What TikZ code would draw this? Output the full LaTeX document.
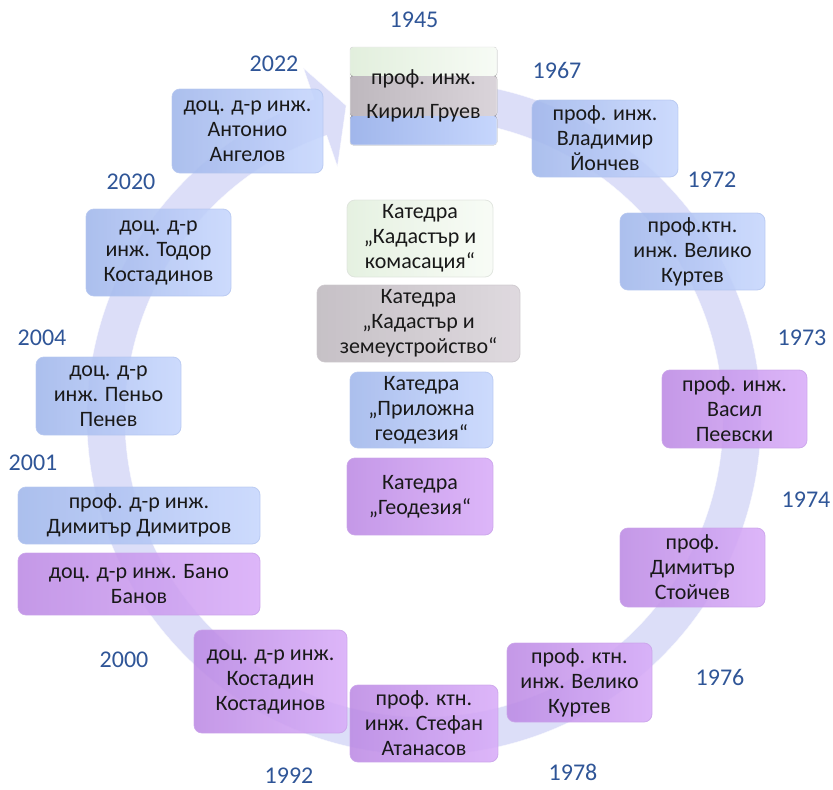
\documentclass[tikz,border=0pt]{standalone}
\usepackage{fontspec}
\setmainfont{Carlito}
\usepackage{tikz}

\definecolor{yearc}{RGB}{47,85,151}
\definecolor{ringc}{RGB}{220,222,248}
\definecolor{bluA}{RGB}{160,182,235}
\definecolor{bluB}{RGB}{198,214,253}
\definecolor{purA}{RGB}{188,138,228}
\definecolor{purB}{RGB}{216,172,248}
\definecolor{grnA}{RGB}{226,239,221}
\definecolor{grnB}{RGB}{247,251,245}
\definecolor{gryA}{RGB}{190,184,190}
\definecolor{gryB}{RGB}{218,212,218}

\tikzset{
  box/.style={rounded corners=8pt, align=center, inner sep=0pt, font=\fontsize{22}{25}\selectfont,
    fill opacity=0.88, text opacity=1, draw opacity=0.8, line width=0.8pt, text=black!90},
  blubox/.style={box, left color=bluA, right color=bluB, draw=bluA!80!white},
  purbox/.style={box, left color=purA, right color=purB, draw=purA!80!white},
  grnbox/.style={box, left color=grnA, right color=grnB, draw=grnA!70!gray!60},
  grybox/.style={box, left color=gryA, right color=gryB, draw=gryA!80!white},
  year/.style={text=yearc, font=\fontsize{24}{26}\selectfont}
}

\begin{document}
\begin{tikzpicture}[x=1pt,y=-1pt]
\useasboundingbox (0,0) rectangle (833,790);
\begin{scope}[shift={(424,418)},y=1pt]
\fill[ringc,draw=white!85!ringc] (86:337) arc[start angle=86,end angle=-251,radius=337pt] -- (-251:370) -- (-256:322)
  -- (-251:266) -- (-251:299) arc[start angle=-251,end angle=86,radius=299pt] -- cycle;
\end{scope}

\node[box, fill opacity=1, minimum width=147pt, minimum height=98pt, rounded corners=3pt, draw=white!85!gray,
  path picture={
    \fill[left color=grnA,right color=grnB] (path picture bounding box.north west) rectangle ([yshift=-29pt]path picture bounding box.north east);
    \fill[left color=gryA,right color=gryB] ([yshift=-29pt]path picture bounding box.north west) rectangle ([yshift=29pt]path picture bounding box.south east);
    \fill[left color=bluA,right color=bluB] ([yshift=29pt]path picture bounding box.south west) rectangle (path picture bounding box.south east);
  }] (b1945) at (423.5,96) {проф. инж.\\[9pt]Кирил Груев};
\node[blubox, minimum width=146pt, minimum height=77pt] (b1967) at (605,138.5) {проф. инж.\\Владимир\\Йончев};
\node[blubox, minimum width=145pt, minimum height=77pt] (b1972) at (692.5,251.5) {проф.ктн.\\инж. Велико\\Куртев};
\node[purbox, minimum width=145pt, minimum height=78pt] (b1973) at (734.5,409) {проф. инж.\\Васил\\Пеевски};
\node[purbox, minimum width=145pt, minimum height=79pt] (b1974) at (692.5,567.5) {проф.\\Димитър\\Стойчев};
\node[purbox, minimum width=145pt, minimum height=79pt] (b1976) at (579.5,682.5) {проф. ктн.\\инж. Велико\\Куртев};
\node[purbox, minimum width=148pt, minimum height=77pt] (b1978) at (424,723.5) {проф. ктн.\\инж. Стефан\\Атанасов};
\node[purbox, minimum width=153pt, minimum height=103pt] (b1992) at (270.5,681.5) {доц. д-р инж.\\Костадин\\Костадинов};
\node[purbox, minimum width=242pt, minimum height=62pt] (b2000) at (139,584) {доц. д-р инж. Бано\\Банов};
\node[blubox, minimum width=242pt, minimum height=57pt] (b2001) at (139,515.5) {проф. д-р инж.\\Димитър Димитров};
\node[blubox, minimum width=145pt, minimum height=78pt] (b2004) at (108.5,396) {доц. д-р\\инж. Пеньо\\Пенев};
\node[blubox, minimum width=145pt, minimum height=87pt] (b2020) at (158.5,252.5) {доц. д-р\\инж. Тодор\\Костадинов};
\node[blubox, minimum width=151pt, minimum height=84pt] (b2022) at (247.5,131) {доц. д-р инж.\\Антонио\\Ангелов};

\node[grnbox, minimum width=146pt, minimum height=77pt] (dKom) at (420,238.5) {Катедра\\„Кадастър и\\комасация“};
\node[grybox, minimum width=203pt, minimum height=77pt] (dZem) at (418.5,323.5) {Катедра\\„Кадастър и\\земеустройство“};
\node[blubox, minimum width=143pt, minimum height=76pt] (dPril) at (421.5,410) {Катедра\\„Приложна\\геодезия“};
\node[purbox, minimum width=146pt, minimum height=77pt] (dGeo) at (420,496.5) {Катедра\\„Геодезия“};

\foreach \n/\p in {1945/{414,20},1967/{557,70},1972/{712,180},1973/{802,338},1974/{806,500},1976/{720,677},
  1978/{573,772},1992/{289,776},2000/{124,660},2001/{33,463},2004/{42,338},2020/{131,182},2022/{274,64}}
  \node[year] (y\n) at (\p) {\n};
\end{tikzpicture}
\end{document}
